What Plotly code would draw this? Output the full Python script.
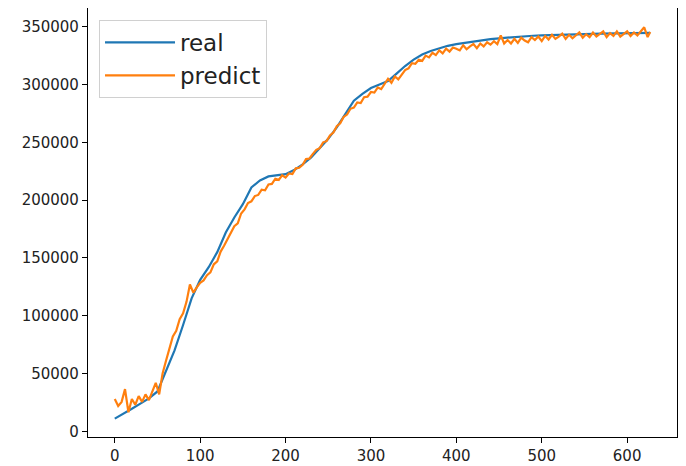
import plotly.graph_objects as go

# ---- data ----
real_x = list(range(0, 621, 10)) + [627]
real_y = [
    11000, 15000, 19500, 24000, 28500, 34500, 51500, 70000, 92000, 115000,
    131000, 142000, 155000, 172000, 185000, 196500, 211000, 217000, 220500, 221500,
    222500, 226000, 231000, 237000, 245000, 253000, 263000, 275000, 286000, 292000,
    297000, 300000, 303000, 309500, 316000, 321500, 326000, 329000, 331500, 333500,
    335000, 336200, 337500, 338500, 339300, 340000, 340700, 341300, 341800, 342200,
    342600, 342900, 343100, 343300, 343500, 343700, 343800, 344000, 344100, 344200,
    344300, 344400, 344500, 344600,
]

pred_x = list(range(0, 625, 4)) + [627]
pred_y = [
    28000, 22000, 25500, 36500, 16500, 28000, 23000, 30500, 25500, 32000,
    27000, 35000, 42000, 32000, 50000, 61000, 71000, 82000, 87000, 97000,
    102000, 112000, 127000, 120000, 124500, 128500, 130500, 135000, 137500, 144500,
    147000, 155500, 160500, 166000, 171000, 177500, 180000, 188500, 192000, 197500,
    199000, 203500, 204500, 209000, 208500, 213500, 214000, 218500, 217500, 221500,
    219500, 223000, 222500, 227500, 228000, 230500, 235500, 236000, 240000, 243500,
    245000, 250000, 251000, 256000, 258500, 264000, 266500, 272000, 274000, 279000,
    280000, 284500, 284000, 289000, 289500, 293500, 293000, 297500, 296000, 300000,
    305000, 301500, 307000, 304500, 309000, 312500, 314000, 318500, 318000, 321500,
    320500, 325000, 323500, 327500, 325500, 329500, 327000, 331000, 328500, 332000,
    331000, 329500, 334000, 330500, 333000, 335000, 331500, 335500, 333000, 336500,
    334500, 337500, 335000, 342500, 335500, 338500, 335500, 339500, 336000, 340500,
    338000, 336500, 341000, 338500, 341500, 337500, 342000, 339000, 343000, 339500,
    341500, 344000, 339500, 343000, 340000, 342500, 345000, 340500, 343500, 341000,
    345000, 341500, 344000, 346000, 341000, 344500, 342000, 346000, 341500, 344000,
    346000, 342000, 345000, 342500, 346500, 349500, 341000,
    345500,
]

x_ticks = [0, 100, 200, 300, 400, 500, 600]
y_ticks = [0, 50000, 100000, 150000, 200000, 250000, 300000, 350000]

fig = go.Figure()
fig.add_trace(go.Scatter(x=real_x, y=real_y, mode="lines", name="real",
                         line=dict(color="#1f77b4", width=2.2)))
fig.add_trace(go.Scatter(x=pred_x, y=pred_y, mode="lines", name="predict",
                         line=dict(color="#ff7f0e", width=2.2)))

axis_common = dict(showline=True, linecolor="black", linewidth=1.2, mirror=True,
                   ticks="outside", ticklen=5, tickwidth=1.2, tickcolor="black",
                   showgrid=False, zeroline=False,
                   tickfont=dict(family="DejaVu Sans", size=15, color="#222222"))

# the page body adds an 8px offset, so the figure is sized to fit the window
fig.update_layout(
    width=678, height=458,
    margin=dict(l=80, r=9, t=0, b=29),
    paper_bgcolor="white", plot_bgcolor="white",
    font=dict(family="DejaVu Sans", color="#222222"),
    xaxis=dict(range=[-31.35, 658.4], tickvals=x_ticks, **axis_common),
    yaxis=dict(range=[-4900, 366200], tickvals=y_ticks, tickformat="d", **axis_common),
    legend=dict(x=0.0187, y=0.972, xanchor="left", yanchor="top", itemwidth=70,
                bgcolor="rgba(255,255,255,0.8)", bordercolor="#d0d0d0", borderwidth=1,
                font=dict(family="DejaVu Sans", size=23, color="#222222")),
    showlegend=True,
)

fig.write_html("out.html")
